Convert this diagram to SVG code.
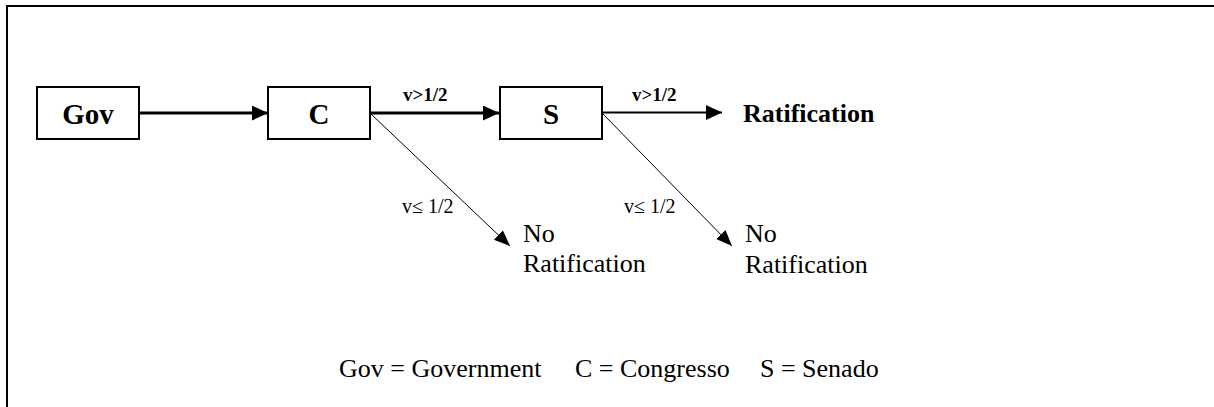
<svg xmlns="http://www.w3.org/2000/svg" width="1214" height="407" viewBox="0 0 1214 407">
  <style>
    text { font-family: "Liberation Serif", "DejaVu Serif", serif; fill: #000; }
    .frame { fill: none; stroke: #000; stroke-width: 2; }
    .box { fill: #fff; stroke: #000; stroke-width: 2; }
    .box-label { font-weight: bold; font-size: 29px; text-anchor: middle; }
    .main { stroke: #000; stroke-width: 3; fill: none; }
    .main-thin { stroke: #000; stroke-width: 2; fill: none; }
    .reject { stroke: #000; stroke-width: 1; fill: none; }
    .cond-bold { font-weight: bold; font-size: 19px; }
    .cond { font-size: 20px; }
    .outcome { font-size: 26px; }
    .outcome-bold { font-weight: bold; font-size: 26px; }
    .legend { font-size: 26px; }
  </style>
  <defs>
    <marker id="head" markerUnits="userSpaceOnUse" markerWidth="17" markerHeight="16" refX="16" refY="7.5" orient="auto">
      <path d="M0,0 L16,7.5 L0,15 z" fill="#000"/>
    </marker>
    <marker id="head-small" markerUnits="userSpaceOnUse" markerWidth="17" markerHeight="14" refX="16" refY="6.5" orient="auto">
      <path d="M0,0 L16,6.5 L0,13 z" fill="#000"/>
    </marker>
  </defs>

  <rect width="1214" height="407" fill="#fff"/>
  <!-- outer frame, open to the right and bottom edges -->
  <path class="frame" d="M1214,6 H7 V407"/>

  <g id="connectors">
    <line class="main" x1="139" y1="113" x2="268" y2="113" marker-end="url(#head)"/>
    <line class="main" x1="370" y1="113" x2="499" y2="113" marker-end="url(#head)"/>
    <line class="main-thin" x1="602" y1="112.5" x2="722" y2="112.5" marker-end="url(#head)"/>
    <line class="reject" x1="371" y1="114" x2="510" y2="246" marker-end="url(#head-small)"/>
    <line class="reject" x1="603" y1="114" x2="732" y2="246" marker-end="url(#head-small)"/>
    <text class="cond-bold" x="403" y="101">v&gt;1/2</text>
    <text class="cond-bold" x="632" y="101">v&gt;1/2</text>
    <text class="cond" x="402" y="213">v≤ 1/2</text>
    <text class="cond" x="624" y="213">v≤ 1/2</text>
  </g>

  <g id="gov">
    <rect class="box" x="37" y="87" width="102" height="52"/>
    <text class="box-label" x="88" y="124">Gov</text>
  </g>
  <g id="congresso">
    <rect class="box" x="268" y="87" width="102" height="52"/>
    <text class="box-label" x="319" y="124">C</text>
  </g>
  <g id="senado">
    <rect class="box" x="500" y="87" width="102" height="52"/>
    <text class="box-label" x="551" y="124">S</text>
  </g>

  <g id="ratification">
    <text class="outcome-bold" x="743" y="122">Ratification</text>
  </g>
  <g id="no-ratification-c">
    <text class="outcome" x="523" y="242">No</text>
    <text class="outcome" x="523" y="272">Ratification</text>
  </g>
  <g id="no-ratification-s">
    <text class="outcome" x="745" y="242">No</text>
    <text class="outcome" x="745" y="273">Ratification</text>
  </g>

  <g id="legend">
    <text class="legend" y="377"><tspan x="339">Gov = Government</tspan><tspan x="575">C = Congresso</tspan><tspan x="760">S = Senado</tspan></text>
  </g>
</svg>
